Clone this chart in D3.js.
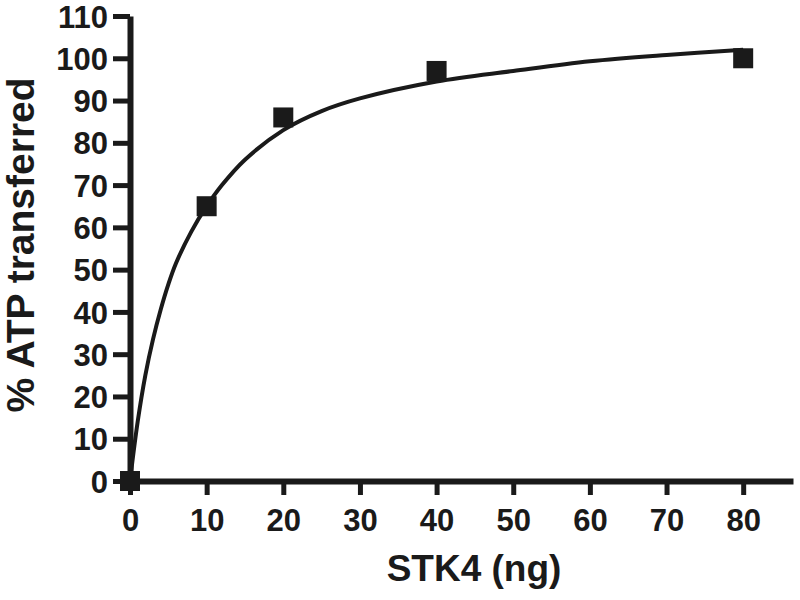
<!DOCTYPE html>
<html>
<head>
<meta charset="utf-8">
<script src="https://cdn.jsdelivr.net/npm/d3@7"></script>
<style>
  html, body { margin: 0; padding: 0; background: #fff; }
  svg text { font-family: "Liberation Sans", Arial, sans-serif; font-weight: bold; fill: #1a1a1a; }
</style>
</head>
<body>
<svg id="chart" width="800" height="600"></svg>
<script>
// measured points (STK4 ng vs % ATP transferred)
var doseNg = [0, 10, 20, 40, 80];
var atpPct = [0, 65, 86, 97, 100];

// fitted curve
var fitNg  = [0, 1, 2, 3, 4, 5, 6, 8, 10, 12, 15, 20, 25, 30, 40, 50, 60, 70, 80];
var fitPct = [0, 14, 25, 33.5, 40.5, 46.5, 51.5, 59, 65, 70, 76, 83, 87.5, 90.5, 94.5, 97, 99.3, 100.8, 102];

var xTicks = [0, 10, 20, 30, 40, 50, 60, 70, 80];
var yTicks = [0, 10, 20, 30, 40, 50, 60, 70, 80, 90, 100, 110];

var svg = d3.select("#chart"),
    ink = "#1a1a1a";

var x = d3.scaleLinear().domain([0, 86.5]).range([130, 793]),
    y = d3.scaleLinear().domain([0, 110]).range([481, 16]);

// Axes
var gx = svg.append("g")
    .attr("transform", "translate(0," + y(0) + ")")
    .call(d3.axisBottom(x).tickValues(xTicks).tickSize(14).tickSizeOuter(0).tickPadding(14));
gx.select(".domain").attr("stroke", ink).attr("stroke-width", 6);
gx.selectAll(".tick line").attr("stroke", ink).attr("stroke-width", 5);
gx.selectAll(".tick text").attr("font-size", 31).attr("fill", ink);

var gy = svg.append("g")
    .attr("transform", "translate(" + x(0) + ",0)")
    .call(d3.axisLeft(y).tickValues(yTicks).tickSize(17).tickSizeOuter(0).tickPadding(5));
gy.select(".domain").attr("stroke", ink).attr("stroke-width", 6);
gy.selectAll(".tick line").attr("stroke", ink).attr("stroke-width", 5);
gy.selectAll(".tick text").attr("font-size", 31).attr("fill", ink).attr("dy", "0.36em");

// Axis titles
svg.append("text")
    .attr("x", 474)
    .attr("y", 581)
    .attr("text-anchor", "middle")
    .attr("font-size", 37)
    .text("STK4 (ng)");

svg.append("text")
    .attr("transform", "translate(34,245) rotate(-90)")
    .attr("text-anchor", "middle")
    .attr("font-size", 39)
    .text("% ATP transferred");

// Fit curve
var line = d3.line()
    .x(function (d) { return x(d[0]); })
    .y(function (d) { return y(d[1]); })
    .curve(d3.curveCatmullRom.alpha(0.5));

svg.append("path")
    .datum(d3.zip(fitNg, fitPct))
    .attr("d", line)
    .attr("fill", "none")
    .attr("stroke", ink)
    .attr("stroke-width", 4);

// Square markers
var side = 20;
svg.append("g").selectAll("rect")
    .data(d3.zip(doseNg, atpPct))
    .enter().append("rect")
    .attr("x", function (d) { return x(d[0]) - side / 2; })
    .attr("y", function (d) { return y(d[1]) - side / 2; })
    .attr("width", side)
    .attr("height", side)
    .attr("fill", ink);
</script>
</body>
</html>
